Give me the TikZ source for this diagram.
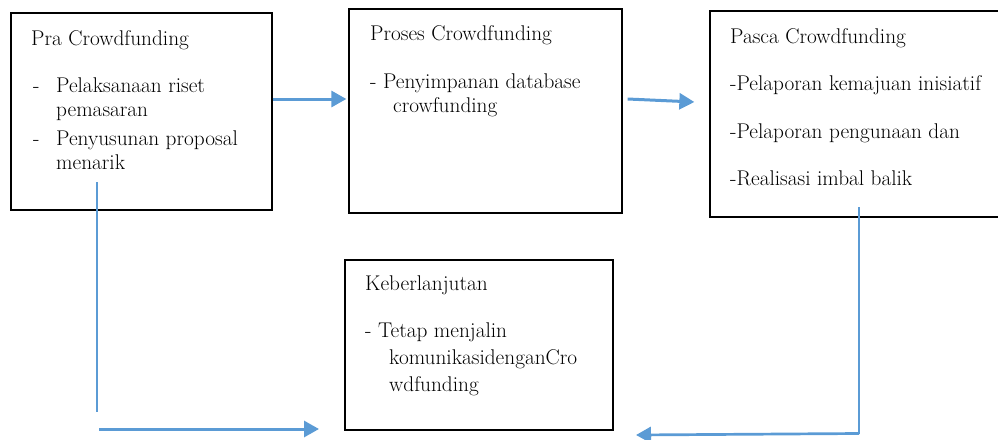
\documentclass[tikz,border=0pt]{standalone}
\usetikzlibrary{arrows.meta}
\definecolor{lblue}{HTML}{5B9BD5}
\begin{document}
\begin{tikzpicture}[x=1pt,y=-1pt,
  box/.style={draw=black, line width=1.3pt, inner sep=0pt},
  txt/.style={anchor=base west, inner sep=0pt, font=\rmfamily\fontsize{21.3pt}{24pt}\selectfont},
  conn/.style={draw=lblue, line width=3pt, -{Triangle[length=15pt,width=16pt]}},
  thinline/.style={draw=lblue, line width=1.6pt}]
\useasboundingbox (0,0) rectangle (998,439);

% boxes
\node[box, minimum width=261pt, minimum height=197pt] (A) at (141.5,111.5) {};
\node[box, minimum width=273pt, minimum height=204pt] (B) at (485.5,111) {};
\node[box, minimum width=290pt, minimum height=206pt] (C) at (855,114) {};
\node[box, minimum width=268pt, minimum height=170pt] (D) at (479,345) {};

% texts A
\node[txt] (a0) at (31,45) {Pra Crowdfunding};
\node[txt] (ad1) at (33,92.5) {-};
\node[txt] (a1) at (56,92.5) {Pelaksanaan riset};
\node[txt] (a2) at (56,116.5) {pemasaran};
\node[txt] (ad2) at (33,145.5) {-};
\node[txt] (a3) at (56,145.5) {Penyusunan proposal};
\node[txt] (a4) at (56,169) {menarik};

% texts B
\node[txt] (b0) at (370,40) {Proses Crowdfunding};
\node[txt] (b1) at (370,88) {- Penyimpanan database};
\node[txt] (b2) at (393,112) {crowfunding};

% texts C
\node[txt] (c0) at (730,43) {Pasca Crowdfunding};
\node[txt] (c1) at (730,90) {-Pelaporan kemajuan inisiatif};
\node[txt] (c2) at (730,138) {-Pelaporan pengunaan dan};
\node[txt] (c3) at (730,185) {-Realisasi imbal balik};

% texts D
\node[txt] (d0) at (365,290) {Keberlanjutan};
\node[txt] (d1) at (365,337) {- Tetap menjalin};
\node[txt] (d2) at (389,364) {komunikasidenganCro};
\node[txt] (d3) at (389,391) {wdfunding};

% connectors
\draw[conn] ([yshift=12.5pt]A.east) -- ([xshift=-2pt,yshift=12pt]B.west);
\draw[conn] ([xshift=5pt,yshift=12pt]B.east) -- ([xshift=-15pt,yshift=12pt]C.west);

\coordinate (p1) at (97,182);
\coordinate (p2) at (97,412);
\coordinate (p3) at (99,429);
\coordinate (p4) at (319,429);
\draw[thinline] (p1) -- (p2);
\draw[conn] (p3) -- (p4);

\coordinate (q1) at (859,207);
\coordinate (q2) at (859,433.5);
\coordinate (q3) at (636,435);
\draw[thinline] (q1) -- (q2);
\draw[conn, line width=2.7pt] (q2) -- (q3);
\end{tikzpicture}
\end{document}
